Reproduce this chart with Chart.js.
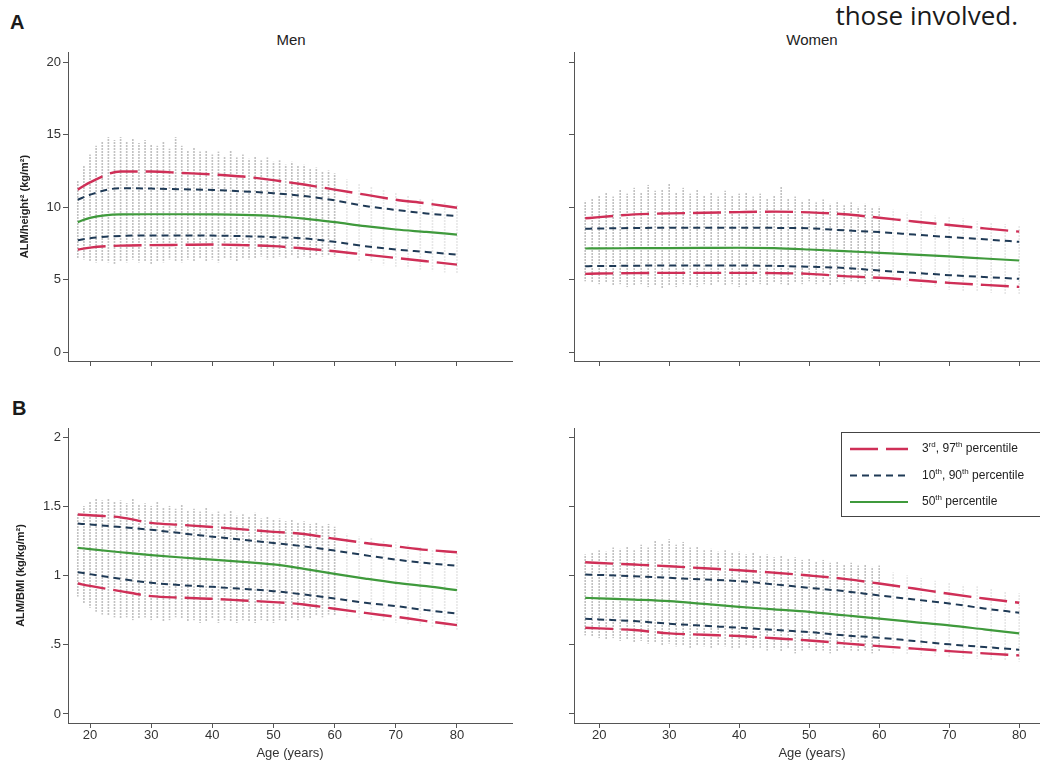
<!DOCTYPE html>
<html lang="en">
<head>
<meta charset="utf-8"/>
<title>ALM percentiles by age</title>
<script src="https://cdn.jsdelivr.net/npm/chart.js"></script>
<style>
  body{margin:0;width:1040px;height:767px;overflow:hidden;background:#fff;position:relative;font-family:"Liberation Sans",Arial,sans-serif}
  canvas{position:absolute}
  .tag{position:absolute;font-weight:700;font-size:20px;line-height:20px;color:#1a1a1a}
  .head{position:absolute;font-size:15px;line-height:15px;color:#222;transform:translateX(-50%)}
  #note{position:absolute;right:22px;top:2px;font-family:"Open Sans",sans-serif;font-size:26px;line-height:26px;color:#1a1a1a}
</style>
</head>
<body>
<div id="note">those involved.</div>
<div class="tag" style="left:10px;top:12px">A</div>
<div class="tag" style="left:12px;top:398px">B</div>
<div class="head" style="left:291px;top:32px">Men</div>
<div class="head" style="left:812px;top:32px">Women</div>
<canvas id="menHt" width="520" height="340" style="left:0;top:40px"></canvas>
<canvas id="womenHt" width="540" height="340" style="left:520px;top:40px"></canvas>
<canvas id="menBmi" width="520" height="367" style="left:0;top:400px"></canvas>
<canvas id="womenBmi" width="540" height="367" style="left:520px;top:400px"></canvas>

<script>
// ages at which the percentile curves were read
const curveAges=[18,20,25,30,35,40,45,50,55,60,65,70,75,80];

// ALM/height² (kg/m²)
const menHtP97=[11.2,11.7,12.45,12.45,12.35,12.25,12.1,11.85,11.55,11.2,10.85,10.5,10.25,9.95];
const menHtP90=[10.5,10.85,11.3,11.27,11.22,11.18,11.08,10.95,10.76,10.46,10.07,9.8,9.56,9.38];
const menHtP50=[8.96,9.25,9.49,9.5,9.5,9.49,9.46,9.38,9.2,8.96,8.68,8.45,8.28,8.1];
const menHtP10=[7.71,7.85,8.0,8.04,8.04,8.03,7.99,7.92,7.83,7.6,7.3,7.07,6.9,6.72];
const menHtP3=[7.07,7.2,7.34,7.37,7.39,7.41,7.37,7.3,7.14,6.95,6.72,6.49,6.26,6.03];

const womenHtP97=[9.22,9.3,9.49,9.56,9.6,9.65,9.68,9.63,9.5,9.26,9.0,8.76,8.53,8.3];
const womenHtP90=[8.5,8.52,8.55,8.57,8.57,8.57,8.56,8.53,8.39,8.27,8.1,7.93,7.77,7.6];
const womenHtP50=[7.14,7.15,7.16,7.17,7.18,7.19,7.16,7.07,6.96,6.84,6.72,6.59,6.45,6.31];
const womenHtP10=[5.92,5.93,5.95,5.97,5.97,5.97,5.94,5.88,5.8,5.62,5.46,5.3,5.17,5.05];
const womenHtP3=[5.39,5.41,5.44,5.46,5.46,5.46,5.44,5.39,5.23,5.12,4.95,4.77,4.63,4.49];

// ALM/BMI (kg/kg/m²)
const menBmiP97=[1.44,1.435,1.42,1.38,1.365,1.35,1.333,1.315,1.3,1.265,1.235,1.21,1.185,1.168];
const menBmiP90=[1.375,1.368,1.35,1.33,1.305,1.28,1.258,1.235,1.21,1.18,1.146,1.115,1.09,1.07];
const menBmiP50=[1.2,1.19,1.168,1.147,1.13,1.115,1.098,1.08,1.048,1.012,0.978,0.947,0.923,0.894];
const menBmiP10=[1.024,1.01,0.976,0.947,0.93,0.918,0.903,0.887,0.863,0.834,0.803,0.779,0.75,0.726];
const menBmiP3=[0.942,0.925,0.887,0.851,0.84,0.832,0.82,0.808,0.791,0.76,0.73,0.702,0.671,0.642];

const womenBmiP97=[1.096,1.09,1.079,1.067,1.052,1.038,1.02,1.0,0.976,0.942,0.906,0.868,0.834,0.803];
const womenBmiP90=[1.007,1.004,0.995,0.983,0.971,0.959,0.936,0.911,0.887,0.856,0.827,0.798,0.762,0.731];
const womenBmiP50=[0.839,0.835,0.826,0.815,0.795,0.774,0.756,0.738,0.713,0.688,0.664,0.64,0.611,0.582];
const womenBmiP10=[0.688,0.683,0.671,0.652,0.637,0.623,0.607,0.592,0.568,0.551,0.527,0.503,0.484,0.464];
const womenBmiP3=[0.623,0.618,0.606,0.582,0.572,0.563,0.547,0.531,0.51,0.49,0.472,0.454,0.438,0.423];

// spread of the individual observations (vertical dot strips)
const stripAgesDense=[18,19,20,21,22,23,24,25,26,27,28,29,30,31,32,33,34,35,36,37,38,39,40,41,42,43,44,45,46,47,48,49,50,51,52,53,54,55,56,57,58,59,60];
const stripAgesSparse=[62,64,66,68,70,72,74,76,78,80];

const menHtHigh=[11.8,12.8,13.6,14.2,14.5,14.8,14.6,14.8,14.5,14.7,14.4,14.6,14.3,14.2,14.5,14.0,14.8,14.2,13.9,14.1,13.8,13.9,13.6,13.8,13.5,13.9,13.4,13.6,13.3,13.5,13.2,13.4,13.1,13.2,12.9,13.1,12.8,12.9,12.6,12.7,12.4,12.5,12.3];
const menHtLow=[6.5,6.4,6.3,6.2,6.3,6.2,6.1,6.3,6.2,6.4,6.2,6.3,6.1,6.3,6.2,6.4,6.3,6.2,6.4,6.3,6.5,6.3,6.4,6.2,6.5,6.4,6.3,6.5,6.4,6.5,6.6,6.4,6.5,6.6,6.5,6.7,6.5,6.6,6.5,6.7,6.6,6.7,6.6];
const menHtHighSparse=[11.9,11.6,11.4,11.2,11.0,10.8,10.6,10.5,10.3,10.2];
const menHtLowSparse=[6.4,6.3,6.2,6.0,5.9,5.8,5.7,5.6,5.5,5.4];

const womenHtHigh=[10.4,10.6,10.8,11.0,10.7,11.2,10.9,11.3,11.0,11.5,11.1,11.2,11.6,11.0,11.3,10.9,11.2,10.8,11.0,10.7,11.1,10.8,10.9,11.0,10.7,10.9,10.6,10.8,11.4,10.6,10.7,10.4,10.6,10.3,10.5,10.2,10.4,10.1,10.3,10.0,10.2,9.9,10.0];
const womenHtLow=[4.9,4.8,4.7,4.8,4.6,4.7,4.5,4.6,4.7,4.5,4.6,4.4,4.6,4.5,4.7,4.6,4.5,4.7,4.6,4.8,4.6,4.7,4.5,4.6,4.8,4.7,4.6,4.8,4.7,4.6,4.8,4.7,4.9,4.7,4.8,4.6,4.8,4.7,4.9,4.8,4.7,4.9,4.8];
const womenHtHighSparse=[9.8,9.6,9.7,9.4,9.3,9.2,9.0,8.9,8.8,8.7];
const womenHtLowSparse=[4.6,4.5,4.4,4.5,4.3,4.2,4.2,4.1,4.0,4.0];

const menBmiHigh=[1.45,1.5,1.53,1.55,1.54,1.55,1.53,1.54,1.52,1.55,1.51,1.52,1.5,1.53,1.49,1.5,1.48,1.51,1.47,1.48,1.46,1.49,1.45,1.46,1.44,1.47,1.43,1.44,1.42,1.45,1.41,1.42,1.4,1.41,1.39,1.4,1.38,1.39,1.37,1.38,1.36,1.37,1.35];
const menBmiLow=[0.85,0.8,0.77,0.74,0.72,0.71,0.7,0.69,0.7,0.68,0.69,0.7,0.68,0.69,0.67,0.68,0.7,0.69,0.67,0.68,0.66,0.67,0.69,0.66,0.68,0.67,0.66,0.68,0.67,0.66,0.68,0.67,0.66,0.68,0.67,0.69,0.68,0.7,0.69,0.71,0.7,0.72,0.71];
const menBmiHighSparse=[1.3,1.28,1.27,1.25,1.24,1.22,1.21,1.19,1.18,1.17];
const menBmiLowSparse=[0.7,0.69,0.68,0.67,0.66,0.65,0.64,0.63,0.62,0.61];

const womenBmiHigh=[1.15,1.16,1.18,1.17,1.2,1.19,1.21,1.18,1.22,1.2,1.25,1.23,1.26,1.22,1.24,1.2,1.21,1.18,1.19,1.17,1.18,1.16,1.17,1.15,1.16,1.14,1.15,1.13,1.14,1.12,1.13,1.11,1.12,1.1,1.11,1.09,1.1,1.08,1.09,1.07,1.08,1.06,1.07];
const womenBmiLow=[0.57,0.56,0.55,0.54,0.55,0.53,0.54,0.52,0.53,0.51,0.52,0.5,0.51,0.49,0.5,0.48,0.5,0.49,0.48,0.5,0.49,0.47,0.48,0.5,0.47,0.48,0.46,0.47,0.45,0.48,0.44,0.46,0.47,0.45,0.46,0.44,0.45,0.47,0.46,0.45,0.46,0.44,0.45];
const womenBmiHighSparse=[1.02,1.0,0.98,0.96,0.95,0.93,0.92,0.9,0.88,0.87];
const womenBmiLowSparse=[0.44,0.43,0.42,0.42,0.41,0.4,0.4,0.39,0.39,0.38];

// axis ticks
const xTicks=[20,30,40,50,60,70,80];
const yTicksHt=[0,5,10,15,20];
const yLabelsHt=['0','5','10','15','20'];
const yTicksBmi=[0,0.5,1,1.5,2];
const yLabelsBmi=['0','.5','1','1.5','2'];

const labelOuter='3rd, 97th percentile';
const labelInner='10th, 90th percentile';
const labelMid='50th percentile';

const RED='#cf2f57',NAVY='#1f3a56',GREEN='#3f9a3c',AXIS='#555';
const FONT='"Liberation Sans", Arial, sans-serif';

function dotPattern(alpha){
  const c=document.createElement('canvas');c.width=1;c.height=3;
  const g=c.getContext('2d');g.fillStyle=`rgba(95,95,95,${alpha})`;g.fillRect(0,0,1,2);
  return g.createPattern(c,'repeat');
}

function drawSup(ctx,text,x,y){
  const parts=text.split(/(\d+)(st|nd|rd|th)/);
  parts.forEach((p,i)=>{
    if(!p)return;
    if(i%3===2){ctx.font='8px '+FONT;ctx.fillText(p,x,y-4);}
    else{ctx.font='12px '+FONT;ctx.fillText(p,x,y);}
    x+=ctx.measureText(p).width;
  });
}

const legendBox={
  id:'legendBox',
  afterDraw(chart,args,o){
    if(!o.show)return;
    const {ctx,chartArea:a}=chart;
    const x=a.left+o.dx,y=a.top+o.dy;
    ctx.save();
    ctx.fillStyle='#fff';ctx.fillRect(x,y,o.w,o.h);
    ctx.strokeStyle='#444';ctx.lineWidth=1;ctx.strokeRect(x+.5,y+.5,o.w,o.h);
    const seen=[];
    chart.data.datasets.forEach(d=>{if(d.type==='line'&&!seen.some(s=>s.label===d.label))seen.push(d);});
    ctx.textBaseline='middle';
    seen.forEach((d,i)=>{
      const cy=y+17+i*26.5;
      ctx.beginPath();ctx.setLineDash(d.borderDash||[]);
      ctx.strokeStyle=d.borderColor;ctx.lineWidth=d.borderWidth;
      ctx.moveTo(x+9,cy);ctx.lineTo(x+67,cy);ctx.stroke();
      ctx.setLineDash([]);
      ctx.fillStyle='#222';
      drawSup(ctx,d.label,x+81,cy);
    });
    ctx.restore();
  }
};

function pts(ages,vals){return ages.map((a,i)=>({x:a,y:vals[i]}));}
function strip(ages,lo,hi){return ages.map((a,i)=>({x:a,y:[lo[i],hi[i]]}));}

function curve(label,vals,color,width,dash){
  return {type:'line',label,data:pts(curveAges,vals),borderColor:color,borderWidth:width,
    borderDash:dash,pointRadius:0,cubicInterpolationMode:'monotone',fill:false,order:0};
}

function makePanel(id,c){
  new Chart(document.getElementById(id),{
    type:'line',
    data:{datasets:[
      curve(labelOuter,c.p97,RED,2.4,[28,8]),
      curve(labelOuter,c.p3,RED,2.4,[28,8]),
      curve(labelInner,c.p90,NAVY,2,[7,5]),
      curve(labelInner,c.p10,NAVY,2,[7,5]),
      curve(labelMid,c.p50,GREEN,2.2,[]),
      {type:'bar',label:'obs',data:strip(stripAgesDense,c.lo,c.hi),backgroundColor:dotPattern(0.38),
        barThickness:1,borderWidth:0,grouped:false,order:2},
      {type:'bar',label:'obs sparse',data:strip(stripAgesSparse,c.loS,c.hiS),backgroundColor:dotPattern(0.15),
        barThickness:1,borderWidth:0,grouped:false,order:2}
    ]},
    options:{
      responsive:false,animation:false,
      layout:{padding:{top:c.padTop,right:c.padRight,left:0,bottom:0}},
      scales:{
        x:{type:'linear',min:16.4,max:c.xMax,offset:false,
          afterBuildTicks:s=>{s.ticks=xTicks.map(v=>({value:v}));},
          afterFit:s=>{s.height=c.xH;},
          ticks:{autoSkip:false,padding:0,color:'#333',font:{size:13,family:FONT},
            callback:v=>c.xLabels?String(v):''},
          grid:{offset:false,drawOnChartArea:false,drawTicks:true,tickLength:5,color:AXIS},
          border:{display:true,color:AXIS,width:1},
          title:{display:c.xLabels,text:'Age (years)',color:'#333',padding:{top:0,bottom:6},
            font:{size:13,family:FONT}}
        },
        y:{min:c.yMin,max:c.yMax,
          afterBuildTicks:s=>{s.ticks=c.yTicks.map(v=>({value:v}));},
          afterFit:s=>{s.width=c.yW;},
          ticks:{padding:2,color:'#333',font:{size:13,family:FONT},
            callback:v=>c.yTitle?c.yLabels[c.yTicks.indexOf(v)]:''},
          grid:{drawOnChartArea:false,drawTicks:true,tickLength:5,color:AXIS},
          border:{display:true,color:AXIS,width:1},
          title:{display:!!c.yTitle,text:c.yTitle||'',color:'#222',padding:{top:c.titleOff||18,bottom:0},
            font:{size:11,weight:'bold',family:FONT}}
        }
      },
      plugins:{legend:{display:false},tooltip:{enabled:false},
        legendBox:{show:!!c.legend,dx:267,dy:4,w:206,h:84}}
    },
    plugins:[legendBox]
  });
}

const topCfg={yMin:-0.62,yMax:20.69,yTicks:yTicksHt,yLabels:yLabelsHt,padTop:12,xH:19,xLabels:false};
const botCfg={yMin:-0.065,yMax:2.065,yTicks:yTicksBmi,yLabels:yLabelsBmi,padTop:28,xH:44,xLabels:true};

makePanel('menHt',{...topCfg,xMax:89,yW:68,padRight:8,yTitle:'ALM/height² (kg/m²)',titleOff:18,
  p97:menHtP97,p90:menHtP90,p50:menHtP50,p10:menHtP10,p3:menHtP3,
  lo:menHtLow,hi:menHtHigh,loS:menHtLowSparse,hiS:menHtHighSparse});
makePanel('womenHt',{...topCfg,xMax:84.4,yW:54,padRight:10,
  p97:womenHtP97,p90:womenHtP90,p50:womenHtP50,p10:womenHtP10,p3:womenHtP3,
  lo:womenHtLow,hi:womenHtHigh,loS:womenHtLowSparse,hiS:womenHtHighSparse});
makePanel('menBmi',{...botCfg,xMax:89,yW:68,padRight:8,yTitle:'ALM/BMI (kg/kg/m²)',titleOff:14,
  p97:menBmiP97,p90:menBmiP90,p50:menBmiP50,p10:menBmiP10,p3:menBmiP3,
  lo:menBmiLow,hi:menBmiHigh,loS:menBmiLowSparse,hiS:menBmiHighSparse});
makePanel('womenBmi',{...botCfg,xMax:84.4,yW:54,padRight:10,legend:true,
  p97:womenBmiP97,p90:womenBmiP90,p50:womenBmiP50,p10:womenBmiP10,p3:womenBmiP3,
  lo:womenBmiLow,hi:womenBmiHigh,loS:womenBmiLowSparse,hiS:womenBmiHighSparse});
</script>
</body>
</html>
